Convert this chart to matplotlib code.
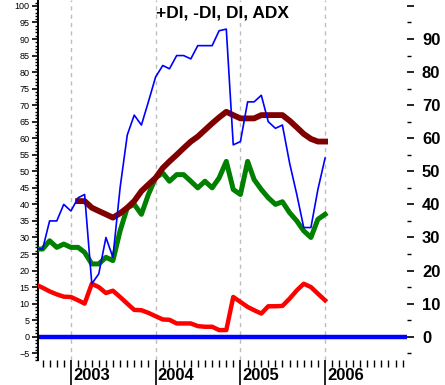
import matplotlib
matplotlib.use("Agg")
import matplotlib.pyplot as plt
import matplotlib.dates as mdates
import matplotlib.transforms as mtransforms
import numpy as np
import pandas as pd

plt.rcParams['font.family'] = ['Liberation Sans', 'DejaVu Sans']

# ---- data ----
months = pd.date_range('2002-08-01', '2006-01-01', freq='MS')
plus_di = [26.5, 26.5, 35, 35, 40, 38, 42, 43, 16, 19, 30, 24, 45, 61, 67, 64, 71, 78.5,
           82, 81, 85, 85, 84, 88, 88, 88, 92.5, 93, 58, 59, 71, 71, 73, 65, 63, 64,
           52.5, 43, 33, 33, 44.5, 54]
minus_di = [15.8, 14.8, 13.7, 12.8, 12.1, 12, 11, 10, 16, 15, 13.2, 13.9, 12, 10, 8.1, 8,
            7.2, 6.2, 5.2, 5.1, 4, 4, 4, 3.2, 3, 3, 2, 2, 12, 10.5, 9, 8, 7, 9.2, 9.2, 9.3,
            11.5, 14, 16, 15, 13, 11]
di = [26.5, 26.5, 29, 27, 28, 27, 27, 25.5, 22, 22, 24, 23, 32, 39, 40, 37, 43, 48, 49.5,
      47, 49, 49, 47, 45, 47, 45, 48, 53, 44.5, 43, 53, 47.5, 44.5, 42, 40, 40.8, 37.5,
      35, 32, 30, 35.5, 37]
adx = [np.nan] * 6 + [41, 41, 39, 38, 37, 36, 37.3, 39, 41, 44, 46, 48, 51, 53, 55, 57, 59,
                      60.5, 62.5, 64.5, 66.3, 68, 67, 66, 66, 66, 67, 67, 67, 67, 65.3, 63.3,
                      61.3, 59.8, 59, 59]
zero_level = 0
years = [2003, 2004, 2005, 2006]
title = "+DI, -DI, DI, ADX"

# ---- figure ----
W, H = 445, 385
fig = plt.figure(figsize=(W / 100, H / 100), dpi=100)
ax_l, ax_r, ax_b, ax_t = 38 / W, 406.7 / W, (H - 360) / H, 1.0
ax = fig.add_axes([ax_l, ax_b, ax_r - ax_l, ax_t - ax_b])

x0 = pd.Timestamp('2002-08-12')
x1 = pd.Timestamp('2006-12-19')
ax.set_xlim(x0, x1)
ax.set_ylim(-7.05, 101.8)

# gridlines at years
for yr in years:
    ax.axvline(pd.Timestamp(f'{yr}-01-01'), color='#bdbdbd', lw=1.0,
               ls=(0, (3, 3)), zorder=1)

ax.axhline(zero_level, color='#0000ff', lw=3.2, zorder=2)
ax.plot(months, minus_di, color='#ff0000', lw=3.2, zorder=3, solid_joinstyle='round')
ax.plot(months, di, color='#008000', lw=3.6, zorder=4, solid_joinstyle='round')
ax.plot(months, adx, color='#800000', lw=4.2, zorder=5, solid_joinstyle='round')
ax.plot(months, plus_di, color='#0000ff', lw=1.2, zorder=6)

# spines
for s in ['top', 'right', 'bottom']:
    ax.spines[s].set_visible(False)
ax.spines['left'].set_linewidth(1.4)

# left y ticks
ax.set_yticks(np.arange(-5, 101, 5))
ax.set_yticks(np.arange(-7, 102, 1), minor=True)
ax.tick_params(axis='y', which='major', direction='out', length=4, width=1.2,
               labelsize=6.5, pad=2)
ax.tick_params(axis='y', which='minor', direction='out', length=2.2, width=1.0)

# x ticks: months minor, years major (long)
ax.xaxis.set_major_locator(mdates.YearLocator())
ax.xaxis.set_minor_locator(mdates.MonthLocator())
ax.xaxis.set_major_formatter(plt.NullFormatter())
ax.tick_params(axis='x', which='major', direction='out', length=18.5, width=1.2)
ax.tick_params(axis='x', which='minor', direction='out', length=5, width=1.0)

# year labels
trans = mtransforms.blended_transform_factory(ax.transData, ax.transAxes)
for yr in years:
    t = ax.text(pd.Timestamp(f'{yr}-01-01'), 0, str(yr), transform=trans,
                fontsize=12, fontweight='bold', ha='left', va='center')
    t.set_transform(trans + mtransforms.ScaledTranslation(2 / 100, -15 / 100,
                                                          fig.dpi_scale_trans))

# right axis
axr = ax.twinx()
axr.set_ylim(ax.get_ylim())
for s in ['top', 'right', 'bottom', 'left']:
    axr.spines[s].set_visible(False)
axr.set_yticks(np.arange(0, 101, 10))
axr.set_yticklabels([str(v) if v < 100 else '' for v in range(0, 101, 10)])
axr.set_yticks(np.arange(-5, 101, 10), minor=True)
axr.tick_params(axis='y', which='major', direction='out', length=5, width=1.2,
                labelsize=12, pad=6)
axr.tick_params(axis='y', which='minor', direction='out', length=3, width=1.0)
for lab in axr.get_yticklabels():
    lab.set_fontweight('bold')

ax.text(0.5, 1 - 13 / 360, title, transform=ax.transAxes, ha='center', va='center',
        fontsize=12.5, fontweight='bold')

fig.savefig('out.png', dpi=100)
